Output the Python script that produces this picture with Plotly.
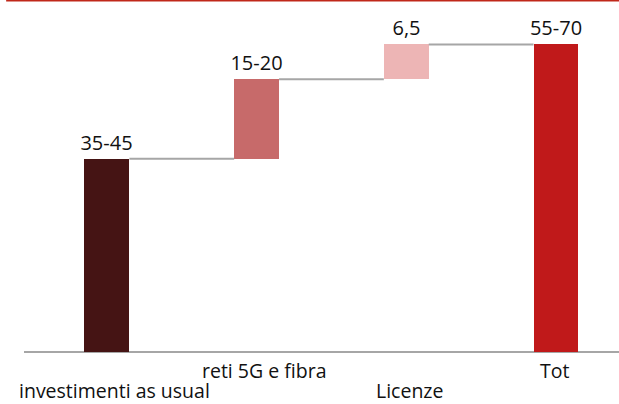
import plotly.graph_objects as go

# waterfall: investimenti -> reti -> licenze -> totale (miliardi)
categories = ["investimenti as usual", "reti 5G e fibra", "Licenze", "Tot"]
values = [40, 16.5, 7.2, 63.7]
bases = [0, 40, 56.5, 0]
labels = ["35-45", "15-20", "6,5", "55-70"]
colors = ["#451414", "#C76A6A", "#EDB5B5", "#C0191A"]
label_row = [2, 1, 2, 1]          # alternating category label rows
label_shift = [8, 7, 3, -1]

FONT = "Open Sans, Noto Sans, sans-serif"
xs = list(range(len(categories)))

fig = go.Figure()

# connector lines between bars
for i in range(len(xs) - 1):
    level = bases[i] + values[i]
    fig.add_trace(go.Scatter(
        x=[xs[i] + 0.15, xs[i + 1] - 0.15], y=[level, level],
        mode="lines", line=dict(color="#A6A6A6", width=2),
        hoverinfo="skip", showlegend=False))

fig.add_trace(go.Bar(
    x=xs, y=values, base=bases, width=0.3,
    marker=dict(color=colors, line=dict(width=0)),
    text=labels, textposition="outside", cliponaxis=False,
    constraintext="none",
    textfont=dict(size=20, color="#111111", family=FONT),
    showlegend=False))

for i, cat in enumerate(categories):
    fig.add_annotation(
        x=xs[i], y=0, xref="x", yref="paper",
        text=cat, showarrow=False, yanchor="middle",
        yshift=-18 if label_row[i] == 1 else -38, xshift=label_shift[i],
        font=dict(size=19.5, color="#111111", family=FONT))

# red rule at the top
fig.add_shape(type="line", xref="paper", yref="paper",
              x0=-0.03, x1=1, y0=1, y1=1,
              line=dict(color="#C0281A", width=3))

fig.update_layout(
    width=619, height=404,
    margin=dict(l=24, r=0, t=0, b=52),
    paper_bgcolor="white", plot_bgcolor="white",
    bargap=0,
    xaxis=dict(range=[-0.554, 3.421], showticklabels=False, showgrid=False,
               zeroline=False, showline=False, fixedrange=True),
    yaxis=dict(range=[0, 72.9], showticklabels=False, showgrid=False,
               zeroline=True, zerolinecolor="#A6A6A6", zerolinewidth=2,
               showline=False, fixedrange=True),
)

fig.write_html("out.html", config={"displayModeBar": False},
               post_script="document.body.style.margin='0px';")
